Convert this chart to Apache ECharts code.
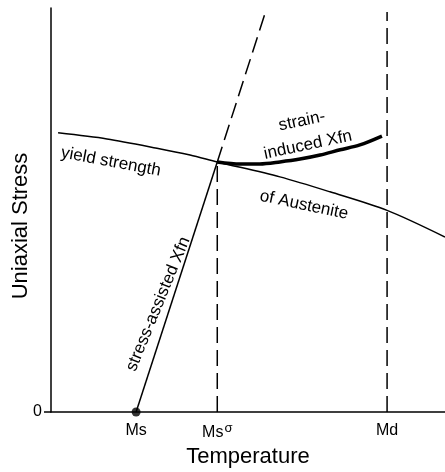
<!DOCTYPE html>
<html><head><meta charset="utf-8">
<script src="https://cdn.jsdelivr.net/npm/echarts@6/dist/echarts.min.js"></script>
<style>html,body{margin:0;padding:0;background:#fff}#c{width:445px;height:472px}</style>
</head><body><div id="c"></div>
<script>
// Temperature and stress in arbitrary units (0-100)
const yieldTemp   = [1.8, 14.2, 26.9, 35.3, 42.2, 58.1, 70.8, 85.3, 100];
const yieldStress = [69.1, 67.6, 65.3, 63.6, 61.9, 58.2, 54.5, 49.9, 43.3];
const strainTemp   = [42.2, 48.0, 53.0, 58.1, 63.2, 68.3, 73.4, 78.4, 84.0];
const strainStress = [61.9, 61.4, 61.4, 61.9, 62.6, 63.6, 64.9, 66.1, 68.3];
const assistTemp   = [21.6, 42.2];
const assistStress = [0, 61.9];
const assistExtTemp   = [42.2, 54.6];
const assistExtStress = [61.9, 99.5];
const msSigmaTemp = [42.2, 42.2];
const msSigmaStress = [0, 61.9];
const mdTemp = [85.3, 85.3];
const mdStress = [0, 99];
const msPointTemp = [21.6];
const msPointStress = [0];
const tickTemps = [21.6, 42.2, 85.3];
const tickNames = ['Ms', 'Ms', 'Md'];
const tickSups  = ['', 'σ', ''];
const yTicks = [0];

const zip = (a, b) => a.map((v, i) => [v, b[i]]);
const FONT = "'Liberation Sans', Arial, Helvetica, sans-serif";
const black = '#000';

const chart = echarts.init(document.getElementById('c'));
const lineSeries = (data, width, dash, smooth) => ({
  type: 'line', data, symbol: 'none', smooth: smooth || false,
  lineStyle: { color: black, width, type: dash ? [16, 7] : 'solid' },
  silent: true, clip: false
});

chart.setOption({
  animation: false,
  grid: { left: 51, right: 0, top: 8, bottom: 60, containLabel: false, outerBoundsMode: 'none' },
  xAxis: {
    type: 'value', min: 0, max: 100,
    axisLine: { show: true, onZero: false, lineStyle: { color: black, width: 1.5 } },
    axisTick: { show: false },
    splitLine: { show: false },
    axisLabel: {
      customValues: tickTemps,
      margin: 10,
      formatter: (v) => {
        const i = tickTemps.findIndex(t => Math.abs(t - v) < 1e-6);
        if (i < 0) return '';
        return '{b|' + tickNames[i] + '}' + (tickSups[i] ? '{s|' + tickSups[i] + '}' : '');
      },
      rich: {
        b: { fontSize: 16, fontFamily: FONT, color: black, lineHeight: 18 },
        s: { fontSize: 13, fontFamily: FONT, color: black, padding: [0, 0, 9, 1], verticalAlign: 'bottom' }
      }
    },
    name: 'Temperature', nameLocation: 'middle', nameGap: 28,
    nameTextStyle: { fontSize: 22, fontFamily: FONT, color: black, verticalAlign: 'top' }
  },
  yAxis: {
    type: 'value', min: 0, max: 100,
    axisLine: { show: true, lineStyle: { color: black, width: 1.5 } },
    axisTick: { show: true, customValues: yTicks, length: 7, lineStyle: { color: black, width: 1.5 } },
    splitLine: { show: false },
    axisLabel: { customValues: yTicks, margin: 9, fontSize: 16, fontFamily: FONT, color: black }
  },
  series: [
    lineSeries(zip(yieldTemp, yieldStress), 1.5, false, 0.3),
    lineSeries(zip(strainTemp, strainStress), 3.5, false, 0.3),
    lineSeries(zip(assistTemp, assistStress), 1.5, false),
    lineSeries(zip(assistExtTemp, assistExtStress), 1.5, true),
    lineSeries(zip(msSigmaTemp, msSigmaStress), 1.5, true),
    lineSeries(zip(mdTemp, mdStress), 1.5, true),
    { type: 'scatter', data: zip(msPointTemp, msPointStress), symbolSize: 9,
      itemStyle: { color: black }, silent: true, clip: false }
  ]
});

// Curve annotations, anchored in data coordinates
const notes = [
  { text: 'yield strength', at: [15.2, 61.9], rot: -10.5 },
  { text: 'of Austenite', at: [64.2, 51.2], rot: -12 },
  { text: 'strain-', at: [63.7, 72.0], rot: 12 },
  { text: 'induced Xfn', at: [65.2, 66.1], rot: 12 },
  { text: 'stress-assisted Xfn', at: [27.2, 26.7], rot: 67.6 }
];
const graphics = notes.map(n => {
  const p = chart.convertToPixel({ gridIndex: 0 }, n.at);
  return {
    type: 'text', x: p[0], y: p[1], rotation: n.rot * Math.PI / 180, silent: true,
    style: { text: n.text, fontSize: 17, fontFamily: FONT, fill: black, align: 'center', verticalAlign: 'middle' }
  };
});
// Y axis title
graphics.push({
  type: 'text', x: 21, y: 226, rotation: Math.PI / 2, silent: true,
  style: { text: 'Uniaxial Stress', fontSize: 22, fontFamily: FONT, fill: black, align: 'center', verticalAlign: 'middle' }
});
chart.setOption({ graphic: graphics });
</script>
</body></html>
